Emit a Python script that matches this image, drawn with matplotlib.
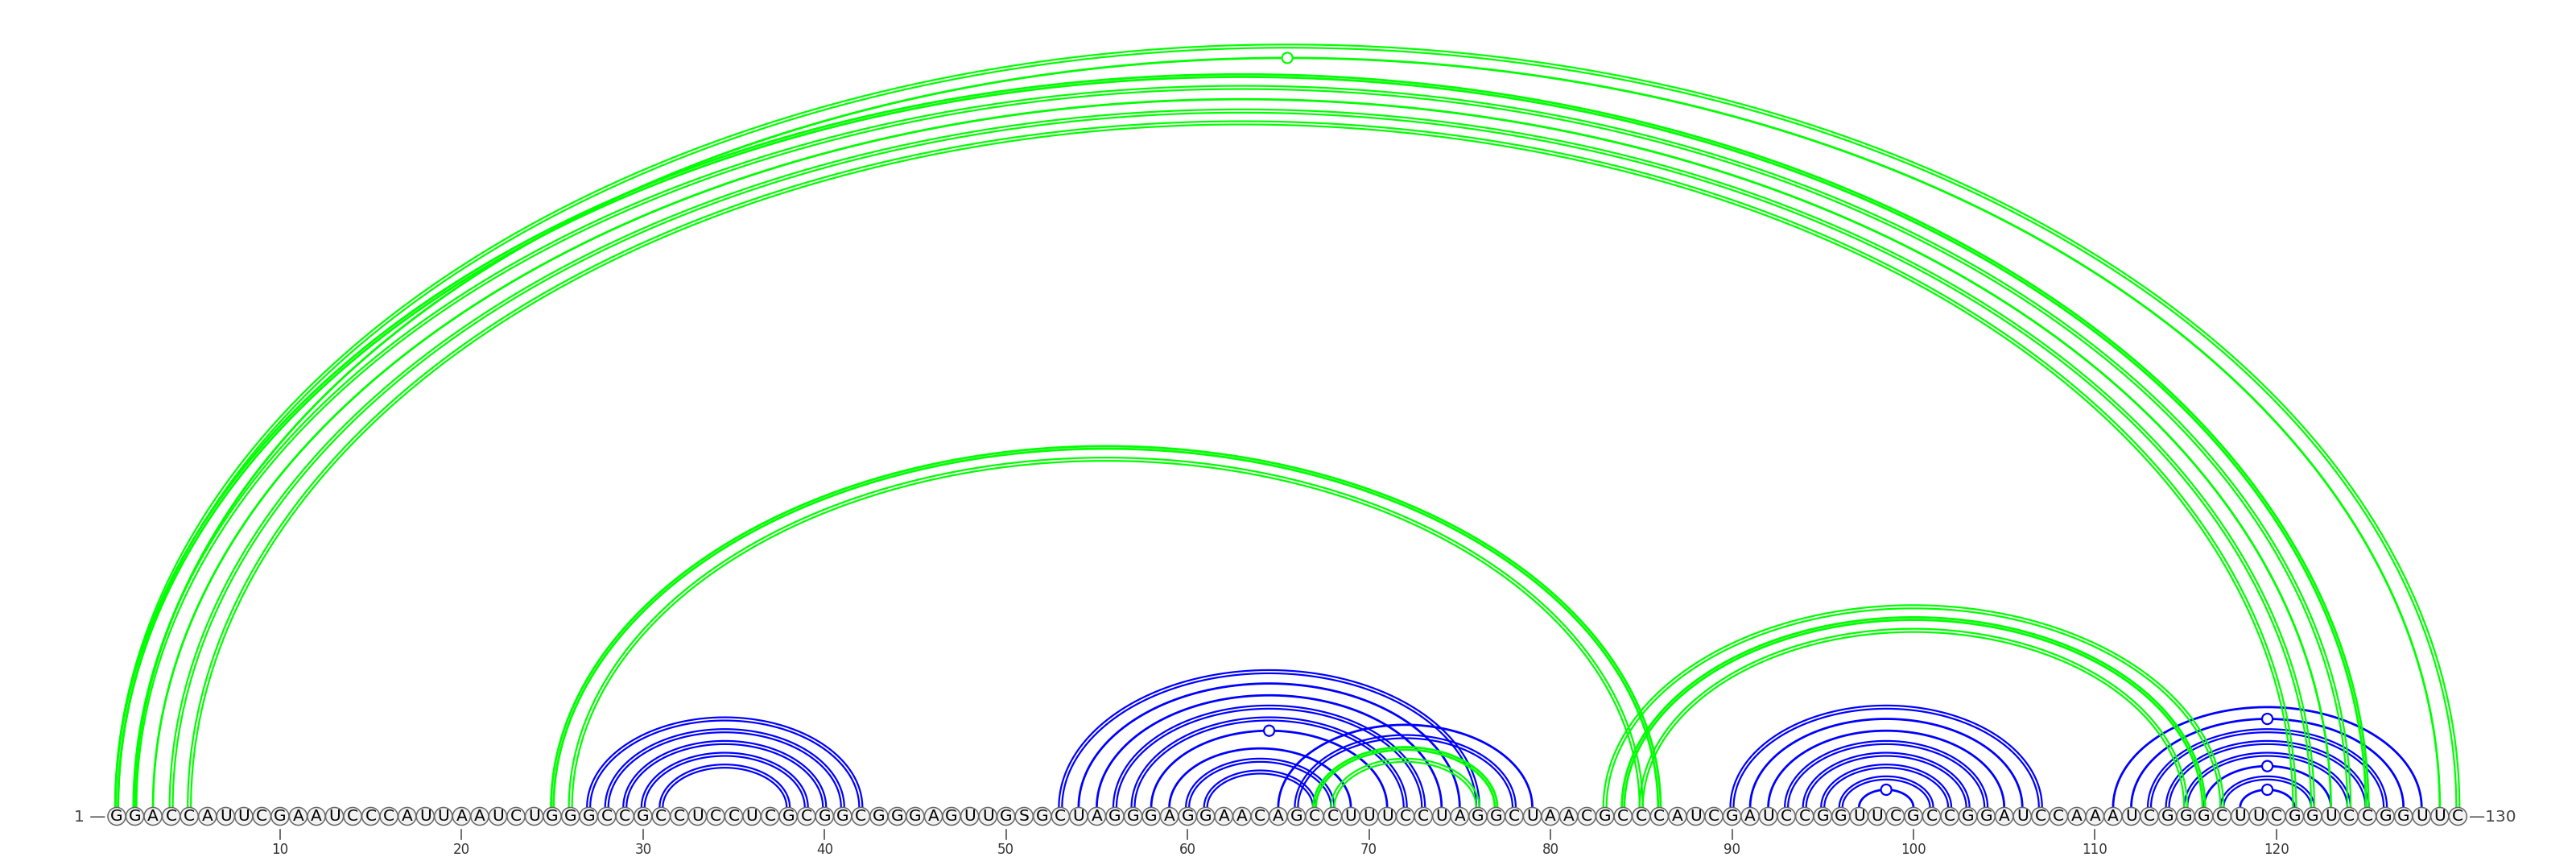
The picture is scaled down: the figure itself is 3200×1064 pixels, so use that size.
import numpy as np
import matplotlib
matplotlib.use("Agg")
import matplotlib.pyplot as plt
from matplotlib.patches import Circle

# ---------------- data ----------------
sequence_chunks = ["GGACCAUUCG", "AAUCCCAUUA", "AUCUGGGCCG", "CCUCCUCGCG",
                   "GCGGGAGUUG", "SGCUAGGGAG", "GAACAGCCUU", "UCCUAGGCUA",
                   "ACGCCCAUCG", "AUCCGGUUCG", "CCGGAUCCAA", "AUCGGGCUUC",
                   "GGUCCGGUUC"]
sequence = "".join(sequence_chunks)

# blue base pairs (i, j) and line style: d=double, s=single, w=single+circle (wobble)
blue_i = [27, 28, 29, 30, 31,
          53, 54, 55, 56, 57, 58, 59, 60, 61,
          65, 66,
          90, 91, 92, 93, 94, 95, 96, 97,
          111, 112, 113, 114, 115, 116, 117, 118]
blue_j = [42, 41, 40, 39, 38,
          76, 75, 74, 73, 72, 71, 69, 68, 67,
          79, 78,
          107, 106, 105, 104, 103, 102, 101, 100,
          128, 127, 126, 125, 124, 123, 122, 121]
blue_style = ["d", "d", "d", "d", "d",
              "d", "s", "s", "d", "d", "w", "s", "d", "d",
              "s", "d",
              "d", "s", "s", "d", "d", "d", "d", "w",
              "s", "w", "d", "d", "d", "w", "d", "w"]

# green base pairs; t = thick double
green_i = [1, 2, 1, 2, 3, 4, 5, 25, 26, 83, 84, 85, 67, 68]
green_j = [130, 129, 125, 124, 123, 122, 121, 86, 85, 117, 116, 115, 77, 76]
green_style = ["d", "w", "t", "d", "s", "d", "d", "t", "d", "d", "t", "d", "t", "d"]

tick_positions = [10, 20, 30, 40, 50, 60, 70, 80, 90, 100, 110, 120]

BLUE = "#0000ff"
GREEN = "#00ff00"

# ---------------- figure ----------------
W, H = 3200, 1064
fig = plt.figure(figsize=(W / 100, H / 100), dpi=100)
ax = fig.add_axes([0, 0, 1, 1])
ax.set_axis_off()

px_per_nt = 22.545
x1_px = 145.0
row_px = 1013.5
ax.set_xlim(1 - x1_px / px_per_nt, 1 + (W - x1_px) / px_per_nt)
ax.set_ylim(-(H - row_px) / px_per_nt, row_px / px_per_nt)

R_NUC = 0.49
RATIO = 0.65


def arc_xy(i, j, off):
    c = (i + j) / 2.0
    a = (j - i) / 2.0
    b = RATIO * a
    t = np.linspace(0, np.pi, 600)
    x = c - a * np.cos(t)
    y = R_NUC + b * np.sin(t)
    dx = a * np.sin(t)
    dy = b * np.cos(t)
    n = np.hypot(dx, dy)
    return x - off * dy / n, y + off * dx / n


def draw_arc(i, j, style, color, z):
    if style == "d":
        for off in (-0.088, 0.088):
            x, y = arc_xy(i, j, off)
            ax.plot(x, y, color=color, lw=1.6, zorder=z, solid_capstyle="butt")
    elif style == "t":
        for off in (-0.07, 0.07):
            x, y = arc_xy(i, j, off)
            ax.plot(x, y, color=color, lw=2.0, zorder=z, solid_capstyle="butt")
    else:
        x, y = arc_xy(i, j, 0.0)
        ax.plot(x, y, color=color, lw=2.0, zorder=z, solid_capstyle="butt")
        if style == "w":
            c = (i + j) / 2.0
            top = R_NUC + RATIO * (j - i) / 2.0
            ax.add_patch(Circle((c, top), 0.29, facecolor="white", edgecolor=color,
                                lw=1.6, zorder=z + 0.5))


for i, j, s in zip(blue_i, blue_j, blue_style):
    draw_arc(i, j, s, BLUE, 2)
for i, j, s in zip(green_i, green_j, green_style):
    draw_arc(i, j, s, GREEN, 3)

# nucleotides
for k, ch in enumerate(sequence, start=1):
    ax.add_patch(Circle((k, 0), R_NUC, facecolor="#f2f2f2", edgecolor="#666666",
                        lw=1.1, zorder=5))
    ax.text(k, -0.02, ch, ha="center", va="center", fontsize=14.5,
            family="DejaVu Sans", color="black", zorder=6)

# ticks and labels
for p in tick_positions:
    ax.plot([p, p], [-0.72, -1.28], color="#444444", lw=1.1, zorder=4)
    ax.text(p, -1.86, str(p), ha="center", va="center", fontsize=12,
            color="#333333", family="DejaVu Sans")

n = len(sequence)
ax.text(1 - 0.62, -0.03, "1 \u2014", ha="right", va="center", fontsize=14.5,
        color="#444444", family="DejaVu Sans")
ax.text(n + 0.62, -0.03, "\u2014130", ha="left", va="center", fontsize=14.5,
        color="#444444", family="DejaVu Sans")

fig.savefig("out.png", dpi=100, facecolor="white")
